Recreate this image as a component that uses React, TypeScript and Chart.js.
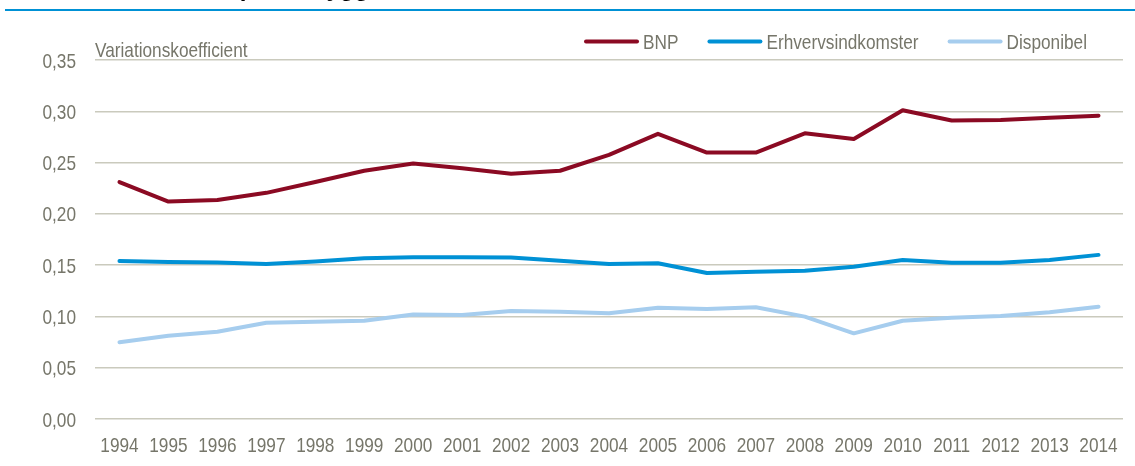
import React, { useEffect, useRef } from "react";
import { Chart, registerables } from "chart.js";

Chart.register(...registerables);

const years = ["1994", "1995", "1996", "1997", "1998", "1999", "2000", "2001", "2002", "2003", "2004", "2005", "2006", "2007", "2008", "2009", "2010", "2011", "2012", "2013", "2014"];
const bnp = [0.231, 0.212, 0.2135, 0.2205, 0.231, 0.242, 0.249, 0.2445, 0.239, 0.242, 0.2575, 0.278, 0.2597, 0.2597, 0.2785, 0.273, 0.301, 0.291, 0.2915, 0.2937, 0.2957];
const erhverv = [0.154, 0.153, 0.1525, 0.151, 0.1535, 0.1567, 0.1577, 0.1577, 0.1575, 0.1543, 0.1511, 0.1518, 0.1424, 0.1436, 0.1446, 0.1485, 0.155, 0.1524, 0.1524, 0.155, 0.16];
const disponibel = [0.0748, 0.0812, 0.0851, 0.0939, 0.0949, 0.0958, 0.1018, 0.1014, 0.1053, 0.1046, 0.103, 0.1085, 0.1072, 0.109, 0.0998, 0.0835, 0.0958, 0.0988, 0.1004, 0.104, 0.1095];
const seriesNames = ["BNP", "Erhvervsindkomster", "Disponibel"];
const seriesColors = ["#8B0A23", "#0091D5", "#A6CDEE"];
const yAxisTitle = "Variationskoefficient";
const chartTitle = "Variation i indkomst pr. indbygger";

const FONT = '"Liberation Sans", Arial, sans-serif';
const TEXT = "#76766a";
const NARROW = 0.82;

function narrowText(ctx: CanvasRenderingContext2D, text: string, x: number, y: number, align: CanvasTextAlign, baseline: CanvasTextBaseline) {
  ctx.save();
  ctx.translate(x, y);
  ctx.scale(NARROW, 1);
  ctx.textAlign = align;
  ctx.textBaseline = baseline;
  ctx.fillText(text, 0, 0);
  ctx.restore();
}

const overlayPlugin = {
  id: "overlay",
  afterDraw(chart: any) {
    const ctx: CanvasRenderingContext2D = chart.ctx;
    const area = chart.chartArea;
    ctx.save();
    ctx.font = `21px ${FONT}`;
    ctx.fillStyle = TEXT;

    // tick labels (from the library's scales)
    const xs = chart.scales.x;
    xs.ticks.forEach((t: any, i: number) => {
      const px = xs.getPixelForTick(i);
      narrowText(ctx, String(xs.getLabelForValue(t.value)), px, 452, "center", "alphabetic");
    });
    const ys = chart.scales.y;
    ys.ticks.forEach((t: any) => {
      const py = ys.getPixelForValue(t.value);
      narrowText(ctx, Number(t.value).toFixed(2).replace(".", ","), area.left - 19, py + 7.5, "right", "alphabetic");
    });

    narrowText(ctx, yAxisTitle, area.left, 57, "left", "alphabetic");

    // legend
    const sample = 55;
    const gapText = 4;
    const gapItem = 29;
    const widths = seriesNames.map((n) => ctx.measureText(n).width * NARROW);
    let total = 0;
    widths.forEach((w, i) => {
      total += sample + gapText + w + (i < widths.length - 1 ? gapItem : 0);
    });
    let x = area.right - 36 - total;
    chart.data.datasets.forEach((ds: any, i: number) => {
      ctx.strokeStyle = ds.borderColor;
      ctx.lineWidth = 4;
      ctx.lineCap = "round";
      ctx.beginPath();
      ctx.moveTo(x + 2, 41.5);
      ctx.lineTo(x + sample - 2, 41.5);
      ctx.stroke();
      x += sample + gapText;
      ctx.fillStyle = TEXT;
      narrowText(ctx, ds.label, x, 48.5, "left", "alphabetic");
      x += widths[i] + gapItem;
    });
    ctx.restore();
  },
};

export default function App() {
  const ref = useRef<HTMLCanvasElement | null>(null);
  useEffect(() => {
    if (!ref.current) return;
    const data = [bnp, erhverv, disponibel];
    const chart = new Chart(ref.current, {
      type: "line",
      data: {
        labels: years,
        datasets: data.map((d, i) => ({
          label: seriesNames[i],
          data: d,
          borderColor: seriesColors[i],
          backgroundColor: seriesColors[i],
          borderWidth: 4,
          pointRadius: 0,
          pointHoverRadius: 0,
          tension: 0,
          borderJoinStyle: "round" as const,
          borderCapStyle: "round" as const,
          fill: false,
        })),
      },
      options: {
        responsive: false,
        animation: false,
        events: [],
        layout: { padding: { left: 0, right: 12, top: 60, bottom: 0 } },
        plugins: {
          legend: { display: false },
          title: { display: false },
          tooltip: { enabled: false },
        },
        scales: {
          x: {
            offset: true,
            afterFit(scale: any) {
              scale.height = 47;
            },
            grid: { display: false },
            border: { display: false },
            ticks: {
              color: "rgba(0,0,0,0)",
              font: { family: FONT, size: 12 },
              padding: 13,
              maxRotation: 0,
              autoSkip: false,
            },
          },
          y: {
            min: 0,
            max: 0.35,
            afterFit(scale: any) {
              scale.width = 95;
            },
            grid: { color: "#cacabd", lineWidth: 1.5, drawTicks: false },
            border: { display: false },
            ticks: {
              stepSize: 0.05,
              color: "rgba(0,0,0,0)",
              font: { family: FONT, size: 12 },
              padding: 18,
              callback: (v: any) => Number(v).toFixed(2).replace(".", ","),
            },
          },
        },
      },
      plugins: [overlayPlugin],
    });
    return () => chart.destroy();
  }, []);

  return (
    <div style={{ position: "fixed", left: 0, top: 0, width: 1135, height: 466, background: "#fff", overflow: "hidden" }}>
      <canvas ref={ref} width={1135} height={466} style={{ position: "absolute", left: 0, top: 0, width: 1135, height: 466 }} />
      <div
        style={{
          position: "absolute",
          left: 5,
          top: -24,
          font: 'bold 24px "Liberation Sans", Arial, sans-serif',
          lineHeight: "24px",
          whiteSpace: "nowrap",
          color: "#000",
        }}
      >
        {chartTitle}
      </div>
      <div style={{ position: "absolute", left: 5, right: 0, top: 9, height: 2, background: "#0091D5" }} />
    </div>
  );
}
